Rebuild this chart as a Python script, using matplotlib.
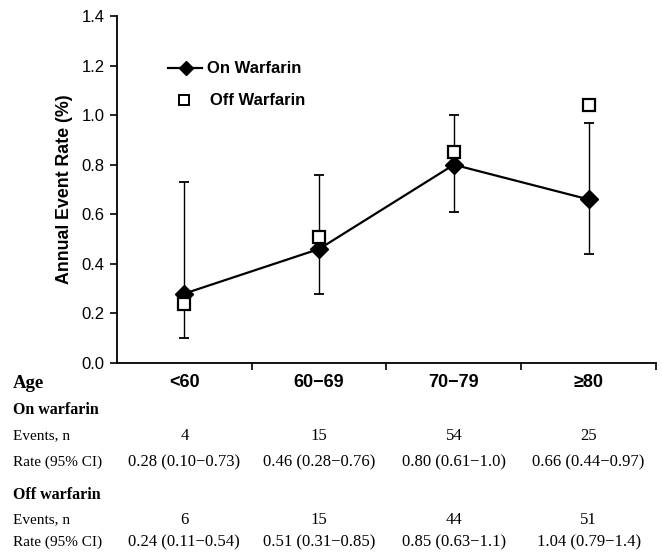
import numpy as np
import matplotlib.pyplot as plt
import matplotlib.transforms as mtransforms

# Grupos de edad y tasas anuales de eventos (%)
edades = ['<60', '60\u221269', '70\u221279', '\u226580']
tasa_on = [0.28, 0.46, 0.80, 0.66]
ic_bajo_on = [0.10, 0.28, 0.61, 0.44]
ic_alto_on = [0.73, 0.76, 1.0, 0.97]
tasa_off = [0.24, 0.51, 0.85, 1.04]

# Tabla inferior
eventos_on = ['4', '15', '54', '25']
texto_on = ['0.28 (0.10\u22120.73)', '0.46 (0.28\u22120.76)',
            '0.80 (0.61\u22121.0)', '0.66 (0.44\u22120.97)']
eventos_off = ['6', '15', '44', '51']
texto_off = ['0.24 (0.11\u22120.54)', '0.51 (0.31\u22120.85)',
             '0.85 (0.63\u22121.1)', '1.04 (0.79\u22121.4)']

sans = 'Liberation Sans'
serif = 'Liberation Serif'

fig = plt.figure(figsize=(6.62, 5.52), dpi=100)
ax = fig.add_axes([0.1767, 0.3424, 0.8142, 0.6286])

x = np.arange(len(edades))

# Barras de error (IC 95%) del grupo con warfarina
err = [np.array(tasa_on) - np.array(ic_bajo_on), np.array(ic_alto_on) - np.array(tasa_on)]
ax.errorbar(x, tasa_on, yerr=err, fmt='none', ecolor='black', elinewidth=1.0,
            capsize=3.5, capthick=1.3, zorder=2)

ax.plot(x, tasa_on, color='black', lw=1.6, marker='D', ms=9,
        markerfacecolor='black', zorder=3)
ax.plot(x, tasa_off, ls='none', marker='s', ms=9, markerfacecolor='white',
        markeredgecolor='black', markeredgewidth=1.6, zorder=4)

ax.set_xlim(-0.5, 3.5)
ax.set_ylim(0, 1.4)
ax.set_yticks(np.arange(0, 1.41, 0.2))
ax.set_yticklabels(['%.1f' % v for v in np.arange(0, 1.41, 0.2)],
                   fontsize=12, family=sans)
ax.tick_params(axis='y', direction='out', length=5, width=1.2, pad=4)

# Marcas en los limites de cada grupo, etiquetas centradas
ax.set_xticks([0.5, 1.5, 2.5, 3.5])
ax.set_xticklabels([])
ax.set_xticks(x, minor=True)
ax.set_xticklabels(edades, minor=True, fontsize=13, fontweight='bold', family=sans)
ax.tick_params(axis='x', which='major', direction='out', length=5, width=1.2)
ax.tick_params(axis='x', which='minor', length=0, pad=8)

ax.spines['top'].set_visible(False)
ax.spines['right'].set_visible(False)
ax.spines['left'].set_linewidth(1.3)
ax.spines['bottom'].set_linewidth(1.3)

ax.set_ylabel('Annual Event Rate (%)', fontsize=12.8, fontweight='bold',
              family=sans, labelpad=6)

# Leyenda
ax.plot([-0.12, 0.13], [1.19, 1.19], color='black', lw=1.6)
ax.plot([0.01], [1.19], marker='D', ms=7.5, color='black')
ax.plot([0.0], [1.06], marker='s', ms=7.5, markerfacecolor='white',
        markeredgecolor='black', markeredgewidth=1.4)
ax.text(0.17, 1.19, 'On Warfarin', fontsize=12, fontweight='bold', family=sans,
        va='center')
ax.text(0.19, 1.06, 'Off Warfarin', fontsize=12, fontweight='bold', family=sans,
        va='center')

# Tabla de datos debajo del grafico
tr = mtransforms.blended_transform_factory(ax.transData, fig.transFigure)

def fila(y, etiqueta, valores):
    fig.text(0.02, y, etiqueta, fontsize=11, family=serif, va='center')
    for xi, v in zip(x, valores):
        ax.text(xi, y, v, transform=tr, fontsize=12, family=serif,
                ha='center', va='center', clip_on=False)

fig.text(0.02, 1 - 383 / 552, 'Age', fontsize=13.5, fontweight='bold',
         family=serif, va='center')
fig.text(0.02, 1 - 410 / 552, 'On warfarin', fontsize=11.5, fontweight='bold',
         family=serif, va='center')
fila(1 - 436 / 552, 'Events, n', eventos_on)
fila(1 - 462 / 552, 'Rate (95% CI)', texto_on)
fig.text(0.02, 1 - 495 / 552, 'Off warfarin', fontsize=11.5, fontweight='bold',
         family=serif, va='center')
fila(1 - 520 / 552, 'Events, n', eventos_off)
fila(1 - 542 / 552, 'Rate (95% CI)', texto_off)

fig.savefig('out.png', dpi=100)
